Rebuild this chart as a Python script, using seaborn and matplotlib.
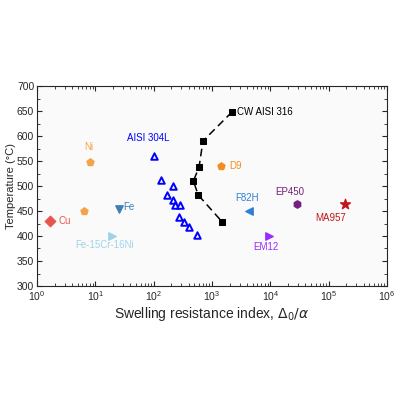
import seaborn as sns
import matplotlib.pyplot as plt
import pandas as pd

sns.set_style("ticks")
plt.rcParams['font.family'] = ['Liberation Sans', 'DejaVu Sans']

## CW AISI 316 series (dashed curve)
cw_x = [2200, 700, 600, 480, 580, 1500]
cw_y = [648, 590, 538, 510, 482, 428]

## AISI 304L triangles
ss_x = [100, 135, 215, 170, 215, 235, 285, 275, 325, 400, 560]
ss_y = [560, 512, 500, 482, 472, 462, 462, 438, 428, 418, 402]

## single materials
names = ['Cu', 'Ni', 'Ni2', 'Fe', 'Fe-15Cr-16Ni', 'D9', 'F82H', 'EM12', 'EP450', 'MA957']
mat_x = [1.7, 8.0, 6.3, 25, 19, 1450, 4300, 9500, 29000, 190000]
mat_y = [430, 548, 450, 454, 400, 540, 450, 400, 464, 465]
markers = ['D', 'p', 'p', 'v', '>', 'p', '<', '>', 'h', '*']
colors = ['#e8554e', '#f5a347', '#f5a347', '#3f7fb4', '#9fd3ea', '#f68b1f',
          '#2f7fd8', '#9a2cff', '#762080', '#c2161c']

fig = plt.figure(figsize=(4, 4), dpi=100)
ax = fig.add_axes([0.0925, 0.285, 0.875, 0.5])
ax.set_facecolor('#fafafa')

cw = pd.DataFrame({'x': cw_x, 'y': cw_y})
sns.lineplot(data=cw, x='x', y='y', ax=ax, color='black', lw=1.1,
             linestyle=(0, (5, 3)), marker='s', markersize=4.5,
             markeredgecolor='black', sort=False)

ss = pd.DataFrame({'x': ss_x, 'y': ss_y})
sns.scatterplot(data=ss, x='x', y='y', ax=ax, marker='^', s=22,
                facecolor='white', edgecolor='#0000ff', linewidth=1.4)

for n, x, y, m, c in zip(names, mat_x, mat_y, markers, colors):
    sz = 55 if m == '*' else 28
    ax.scatter(x, y, marker=m, s=sz, color=c, edgecolor=c, zorder=3)

fs = 7
ax.text(2700, 648, 'CW AISI 316', fontsize=fs, va='center', color='black')
ax.text(35, 590, 'AISI 304L', fontsize=fs, color='#0000ff')
ax.text(6.5, 572, 'Ni', fontsize=fs, color='#f5a347')
ax.text(2.3, 430, 'Cu', fontsize=fs, va='center', color='#e8554e')
ax.text(30, 457, 'Fe', fontsize=fs, va='center', color='#3f7fb4')
ax.text(4.6, 377, 'Fe-15Cr-16Ni', fontsize=fs, color='#9fd3ea')
ax.text(2000, 540, 'D9', fontsize=fs, va='center', color='#f68b1f')
ax.text(2500, 470, 'F82H', fontsize=fs, color='#2f7fd8')
ax.text(5000, 372, 'EM12', fontsize=fs, color='#9a2cff')
ax.text(12000, 482, 'EP450', fontsize=fs, color='#762080')
ax.text(60000, 430, 'MA957', fontsize=fs, color='#c2161c')

ax.set_xscale('log')
ax.set_xlim(1, 1e6)
ax.set_ylim(300, 700)
ax.set_yticks(range(300, 701, 50))
ax.set_yticks(range(300, 701, 25), minor=True)
ax.tick_params(which='both', direction='in', top=True, right=True, labelsize=7.5, pad=2)
ax.set_xlabel(r'Swelling resistance index, $\Delta_0/\alpha$', fontsize=10, labelpad=2)
ax.set_ylabel('Temperature (°C)', fontsize=8, labelpad=1)

fig.savefig('out.png', dpi=100)
